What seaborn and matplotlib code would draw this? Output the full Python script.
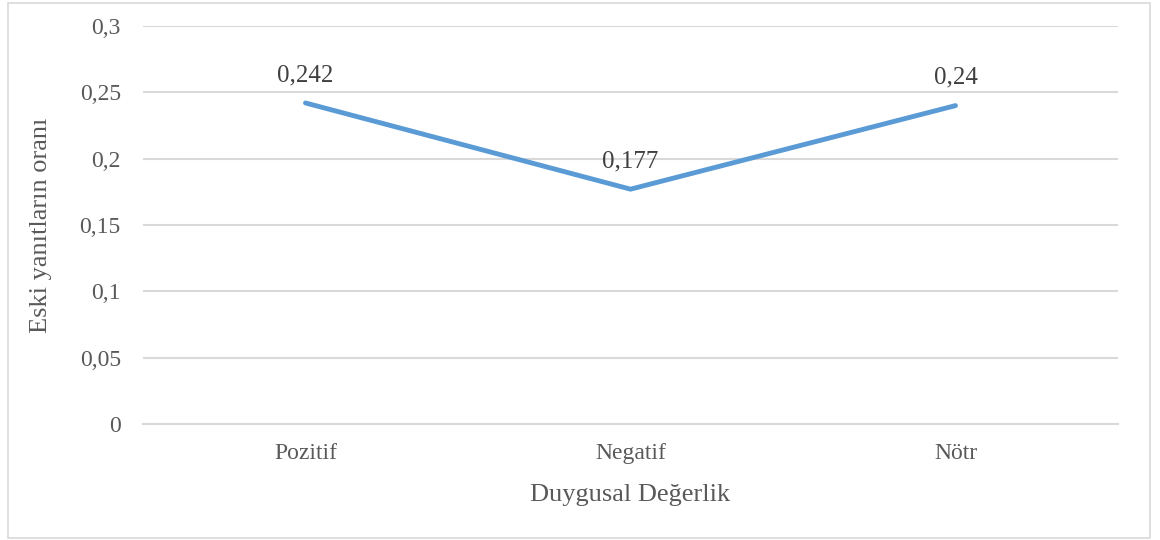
import pandas as pd
import seaborn as sns
import matplotlib.pyplot as plt
from matplotlib.patches import Rectangle

# Data
categories = ['Pozitif', 'Negatif', 'Nötr']
values = [0.242, 0.177, 0.24]
value_labels = ['0,242', '0,177', '0,24']
y_ticks = [0, 0.05, 0.1, 0.15, 0.2, 0.25, 0.3]
y_tick_labels = ['0', '0,05', '0,1', '0,15', '0,2', '0,25', '0,3']

sns.set_style("white")
plt.rcParams['font.family'] = ['Liberation Serif', 'DejaVu Serif']

text_color = '#595959'
grid_color = '#d9d9d9'

df = pd.DataFrame({'kategori': categories, 'oran': values})

fig = plt.figure(figsize=(11.6, 5.4), dpi=100)
ax = fig.add_axes([143 / 1160, 1 - 424 / 540, (1118 - 143) / 1160, (424 - 26) / 540])

sns.lineplot(data=df, x='kategori', y='oran', ax=ax, color='#5b9bd5',
             linewidth=3.5, sort=False)

# Data labels above the points
for i, (v, lab) in enumerate(zip(values, value_labels)):
    ax.annotate(lab, (i, v), xytext=(0, 12), textcoords='offset points',
                ha='center', va='bottom', fontsize=18, color='#404040')

ax.set_xlim(-0.5, 2.5)
ax.set_ylim(0, 0.3)
ax.set_yticks(y_ticks)
ax.set_yticklabels(y_tick_labels)
ax.yaxis.grid(True, color=grid_color, linewidth=1.5)
ax.set_axisbelow(True)
for side in ['top', 'right', 'left']:
    ax.spines[side].set_visible(False)
ax.spines['bottom'].set_color(grid_color)
ax.spines['bottom'].set_linewidth(1.5)
ax.tick_params(axis='both', length=0, labelsize=17, labelcolor=text_color)
ax.tick_params(axis='y', pad=16)
ax.tick_params(axis='x', pad=14)

ax.set_xlabel('Duygusal Değerlik', fontsize=19, color=text_color, labelpad=14)
ax.set_ylabel('Eski yanıtların oranı', fontsize=19, color=text_color, labelpad=20)

# Outer chart border
fig.patches.append(Rectangle((8 / 1160, 2 / 540), 1142 / 1160, 535 / 540,
                             transform=fig.transFigure, fill=False,
                             edgecolor=grid_color, linewidth=1.2))

fig.savefig('out.png', dpi=100)
